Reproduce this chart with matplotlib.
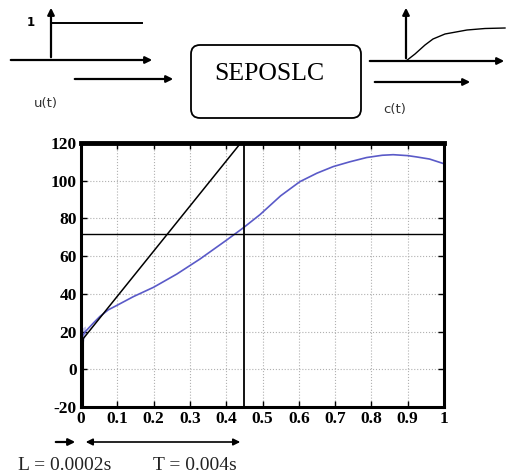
import numpy as np
import matplotlib.pyplot as plt
from matplotlib.patches import FancyBboxPatch

plt.rcParams['axes.unicode_minus'] = False

# response curve
t = [0.0, 0.002, 0.005, 0.012, 0.034, 0.052, 0.075, 0.1, 0.144, 0.2, 0.264, 0.328,
     0.401, 0.447, 0.493, 0.55, 0.603, 0.65, 0.695, 0.74, 0.787, 0.83, 0.86, 0.9,
     0.925, 0.96, 1.0]
c = [0.0, 12, 18, 20, 24.5, 28, 31.5, 34, 38.5, 43.5, 50.5, 58.5,
     68.5, 75, 82, 92, 99.5, 104, 107.5, 110, 112.3, 113.5, 113.8, 113.3,
     112.6, 111.5, 109]

# tangent construction
tan_x = [0.005, 0.44]
tan_y = [16, 120]
L_x = 0.005
T_x = 0.45
h_y = 72

xticks = [0, 0.1, 0.2, 0.3, 0.4, 0.5, 0.6, 0.7, 0.8, 0.9, 1]
xticklabels = ['0', '0.1', '0.2', '0.3', '0.4', '0.5', '0.6', '0.7', '0.8', '0.9', '1']
yticks = [-20, 0, 20, 40, 60, 80, 100, 120]

W, H = 508, 475
fig = plt.figure(figsize=(W / 100, H / 100), dpi=100)

# main plot (pixel box: x 81..444, y 143..407)
ax = fig.add_axes([81 / W, 1 - 407 / H, (444 - 81) / W, (407 - 143) / H])
ax.fill_between([0, 0.004, 0.012], [10, 12, 19], [20, 22, 23], color='#c8c8ee', lw=0)
ax.plot(t, c, color='#5a5ac8', lw=1.2)
ax.plot(tan_x, tan_y, color='black', lw=1.1)
ax.plot([L_x, L_x], [-20, tan_y[0]], color='black', lw=1.5)
ax.axvline(T_x, color='black', lw=1.3)
ax.axhline(h_y, color='black', lw=1.0)
ax.set_xlim(0, 1)
ax.set_ylim(-20, 120)
ax.set_xticks(xticks)
ax.set_xticklabels(xticklabels)
ax.set_yticks(yticks)
ax.grid(True, color='#b0b0b0', linestyle=':', lw=0.8)
ax.tick_params(direction='in', top=True, right=True, length=4, width=1, pad=3)
for s in ax.spines.values():
    s.set_linewidth(2.2)
ax.spines['top'].set_linewidth(3.5)
for lab in ax.get_xticklabels() + ax.get_yticklabels():
    lab.set_fontfamily('Liberation Serif')
    lab.set_fontweight('bold')
    lab.set_fontsize(12.5)

# overlay in pixel coordinates for the block diagram
ov = fig.add_axes([0, 0, 1, 1])
ov.set_xlim(0, W)
ov.set_ylim(H, 0)
ov.axis('off')
ov.patch.set_alpha(0)

arr = dict(arrowstyle='-|>', color='black', lw=1.6, mutation_scale=10)

# input step
ov.annotate('', xy=(155, 60), xytext=(8, 60), arrowprops=arr)
ov.annotate('', xy=(51, 5), xytext=(51, 60), arrowprops=arr)
ov.plot([52, 142], [23, 23], color='black', lw=1.4)
ov.text(31, 22, '1', fontsize=8.5, fontweight='bold', ha='center', va='center')
ov.annotate('', xy=(176, 79), xytext=(72, 79), arrowprops=arr)
ov.text(46, 104, 'u(t)', fontsize=9.5, color='#333333', ha='center', va='center')

# block
box = FancyBboxPatch((191, 45), 170, 73, boxstyle='round,pad=0,rounding_size=9',
                     fc='white', ec='black', lw=1.3)
ov.add_patch(box)
ov.text(269, 74, 'SEPOSLC', fontsize=18.5, fontfamily='Liberation Serif',
        ha='center', va='center')

# output response
ov.annotate('', xy=(507, 61), xytext=(367, 61), arrowprops=arr)
ov.annotate('', xy=(406, 5), xytext=(406, 61), arrowprops=arr)
cx = np.array([406, 415, 425, 433, 445, 467, 485, 505])
cy = np.array([61, 54, 45, 39, 34, 30, 28.5, 28])
ov.plot(cx, cy, color='black', lw=1.0)
ov.annotate('', xy=(473, 82), xytext=(372, 82), arrowprops=arr)
ov.text(395, 110, 'c(t)', fontsize=9.5, color='#333333', ha='center', va='center')

# L and T arrows
ov.annotate('', xy=(78, 442), xytext=(53, 442), arrowprops=arr)
ov.annotate('', xy=(83, 442), xytext=(243, 442),
            arrowprops=dict(arrowstyle='<|-|>', color='black', lw=1.2, mutation_scale=10))
ov.text(18, 465, 'L = 0.0002s', fontsize=14, fontfamily='Liberation Serif',
        color='#222222', ha='left', va='center')
ov.text(153, 465, 'T = 0.004s', fontsize=14, fontfamily='Liberation Serif',
        color='#222222', ha='left', va='center')

fig.savefig('out.png', dpi=100)
